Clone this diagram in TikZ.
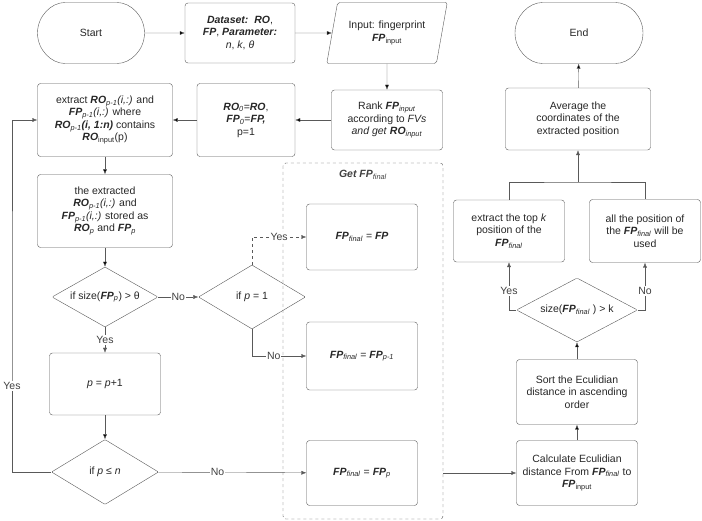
\documentclass[tikz,border=0pt]{standalone}
\usepackage{fontspec}
\setmainfont{Liberation Sans}
\usetikzlibrary{shapes,arrows.meta}
\newcommand{\bi}[1]{\textbf{\textit{#1}}}
\begin{document}
\begin{tikzpicture}[x=1pt,y=-1pt]
  \tikzset{main node/.style={rectangle, draw=black!65, text centered, rounded corners=3pt,
      align=center, font=\fontsize{10.5}{12.5}\selectfont, text=black!85, inner sep=2pt}, }
  \tikzset{term node/.style={main node, rounded rectangle, minimum width=111pt, minimum height=61pt}, }
  \tikzset{dec node/.style={main node, diamond, aspect=1.75, inner sep=0pt, rounded corners=1pt}, }
  \tikzset{linea/.style={draw=black!65, -{Latex[length=5pt,width=4pt]}}, }
  \tikzset{lab/.style={fill=white, inner sep=1pt, font=\fontsize{10.5}{12.5}\selectfont, text=black!75}, }
\useasboundingbox (0,0) rectangle (702,521);
\node[term node] (start) at (91,33) {Start};
\node[main node, minimum width=110pt, minimum height=60pt] (data) at (240,33) {\bi{Dataset:\ \ RO}, \\ \bi{FP}, \bi{Parameter:} \\ \textit{n}, \textit{k}, \textit{θ}};
\node[main node, trapezium, trapezium left angle=72, trapezium right angle=108, trapezium stretches=true,
  rounded corners=2pt, minimum width=121pt, minimum height=61pt] (input) at (387,33) {Input: fingerprint \\ \bi{FP}\textsubscript{input}};
\node[main node, minimum width=111pt, minimum height=60pt] (rank) at (387,120) {Rank \bi{FP}\textsubscript{\textit{input}} \\ according to \textit{FVs} \\ \textit{and get} \bi{RO}\textsubscript{\textit{input}}};
\node[main node, minimum width=98pt, minimum height=73pt] (init) at (246,120) {\bi{RO}\textsubscript{\textit{0}}=\bi{RO}, \\ \bi{FP}\textsubscript{\textit{0}}=\bi{FP,} \\ p=1};
\node[main node, minimum width=135pt, minimum height=73pt] (extr) at (105,120) {extract \bi{RO}\textsubscript{\textit{p-1}}\textit{(i,:)} and \\ \bi{FP}\textsubscript{\textit{p-1}}\textit{(i,:)} where \\ \bi{RO}\textsubscript{\textit{p-1}}\bi{(i, 1:n)} contains \\ \bi{RO}\textsubscript{input}(p)};
\node[main node, minimum width=135pt, minimum height=73pt] (stor) at (105,211) {the extracted \\ \bi{RO}\textsubscript{\textit{p-1}}\textit{(i,:)} and \\ \bi{FP}\textsubscript{\textit{p-1}}\textit{(i,:)} stored as \\ \bi{RO}\textsubscript{\textit{p}} and \bi{FP}\textsubscript{\textit{p}}};
\node[dec node, minimum width=106pt, minimum height=60pt] (size) at (105,297) {if size(\bi{FP}\textsubscript{\textit{p}}) > θ};
\node[dec node, minimum width=107pt, minimum height=64pt] (pone) at (252,297) {if \textit{p} = 1};
\node[main node, minimum width=111pt, minimum height=62pt] (incr) at (105,384) {\textit{p} = \textit{p}+1};
\node[dec node, minimum width=107pt, minimum height=65pt] (pn) at (105,472) {if \textit{p} ≤ \textit{n}};
\draw[black!70, dashed, rounded corners=3pt] (283,163) rectangle (443,519);
\node[lab, fill=none] (get) at (363,175) {\bi{Get FP}\textsubscript{\textit{final}}};
\node[main node, minimum width=111pt, minimum height=66pt] (fa) at (362,237) {\bi{FP}\textsubscript{\textit{final}} = \bi{FP}};
\node[main node, minimum width=111pt, minimum height=68pt] (fb) at (362,356) {\bi{FP}\textsubscript{\textit{final}} = \bi{FP}\textsubscript{\textit{p-1}}};
\node[main node, minimum width=111pt, minimum height=65pt] (fc) at (362,473) {\bi{FP}\textsubscript{\textit{final}} = \bi{FP}\textsubscript{\textit{p}}};
\coordinate (boxr) at (443,473);
\node[main node, minimum width=121pt, minimum height=65pt] (calc) at (577,473) {Calculate Eculidian \\ distance From \bi{FP}\textsubscript{\textit{final}} to \\ \bi{FP}\textsubscript{input}};
\node[main node, minimum width=121pt, minimum height=65pt] (sort) at (577,392) {Sort the Eculidian \\ distance in ascending \\ order};
\node[dec node, minimum width=121pt, minimum height=64pt] (sizek) at (577,310) {size(\bi{FP}\textsubscript{\textit{final}} ) > k};
\node[main node, minimum width=111pt, minimum height=62pt] (topk) at (509,231) {extract the top \textit{k} \\ position of the \\ \bi{FP}\textsubscript{\textit{final}}};
\node[main node, minimum width=111pt, minimum height=63pt] (all) at (645,231) {all the position of \\ the \bi{FP}\textsubscript{\textit{final}} will be \\ used};
\node[main node, minimum width=145pt, minimum height=62pt] (avg) at (578,119) {Average the \\ coordinates of the \\ extracted position};
\node[term node, minimum width=132pt] (end) at (579,33) {End};
\coordinate (merge) at (578,182);
%% connectors
\foreach \x /\y in {start/data, data/input, input/rank, rank/init, init/extr, extr/stor, stor/size, incr/pn, calc/sort, sort/sizek, avg/end}
  \path[linea] (\x) edge (\y);
\draw[linea] (size) -- node[lab] {No} (pone);
\draw[linea] (size) -- node[lab] {Yes} (incr);
\draw[linea, dashed] (pone.north) |- node[lab, pos=0.75] {Yes} (fa);
\draw[linea] (pone.south) |- node[lab, pos=0.7] {No} (fb);
\draw[linea] (pn) -- node[lab, pos=0.4] {No} (fc);
\draw[linea] (pn.west) -| (12,300) node[lab, pos=0.75] {Yes} |- (extr.west);
\draw[linea] (boxr) -- (calc);
\draw[linea] (sizek.west) -| node[lab, pos=0.7] {Yes} (topk);
\draw[linea] (sizek.east) -| node[lab, pos=0.7] {No} (all);
\draw[black!65] (topk.north) |- (merge) -| (all.north);
\draw[linea] (merge) -- (avg);
%%
\end{tikzpicture}
\end{document}
